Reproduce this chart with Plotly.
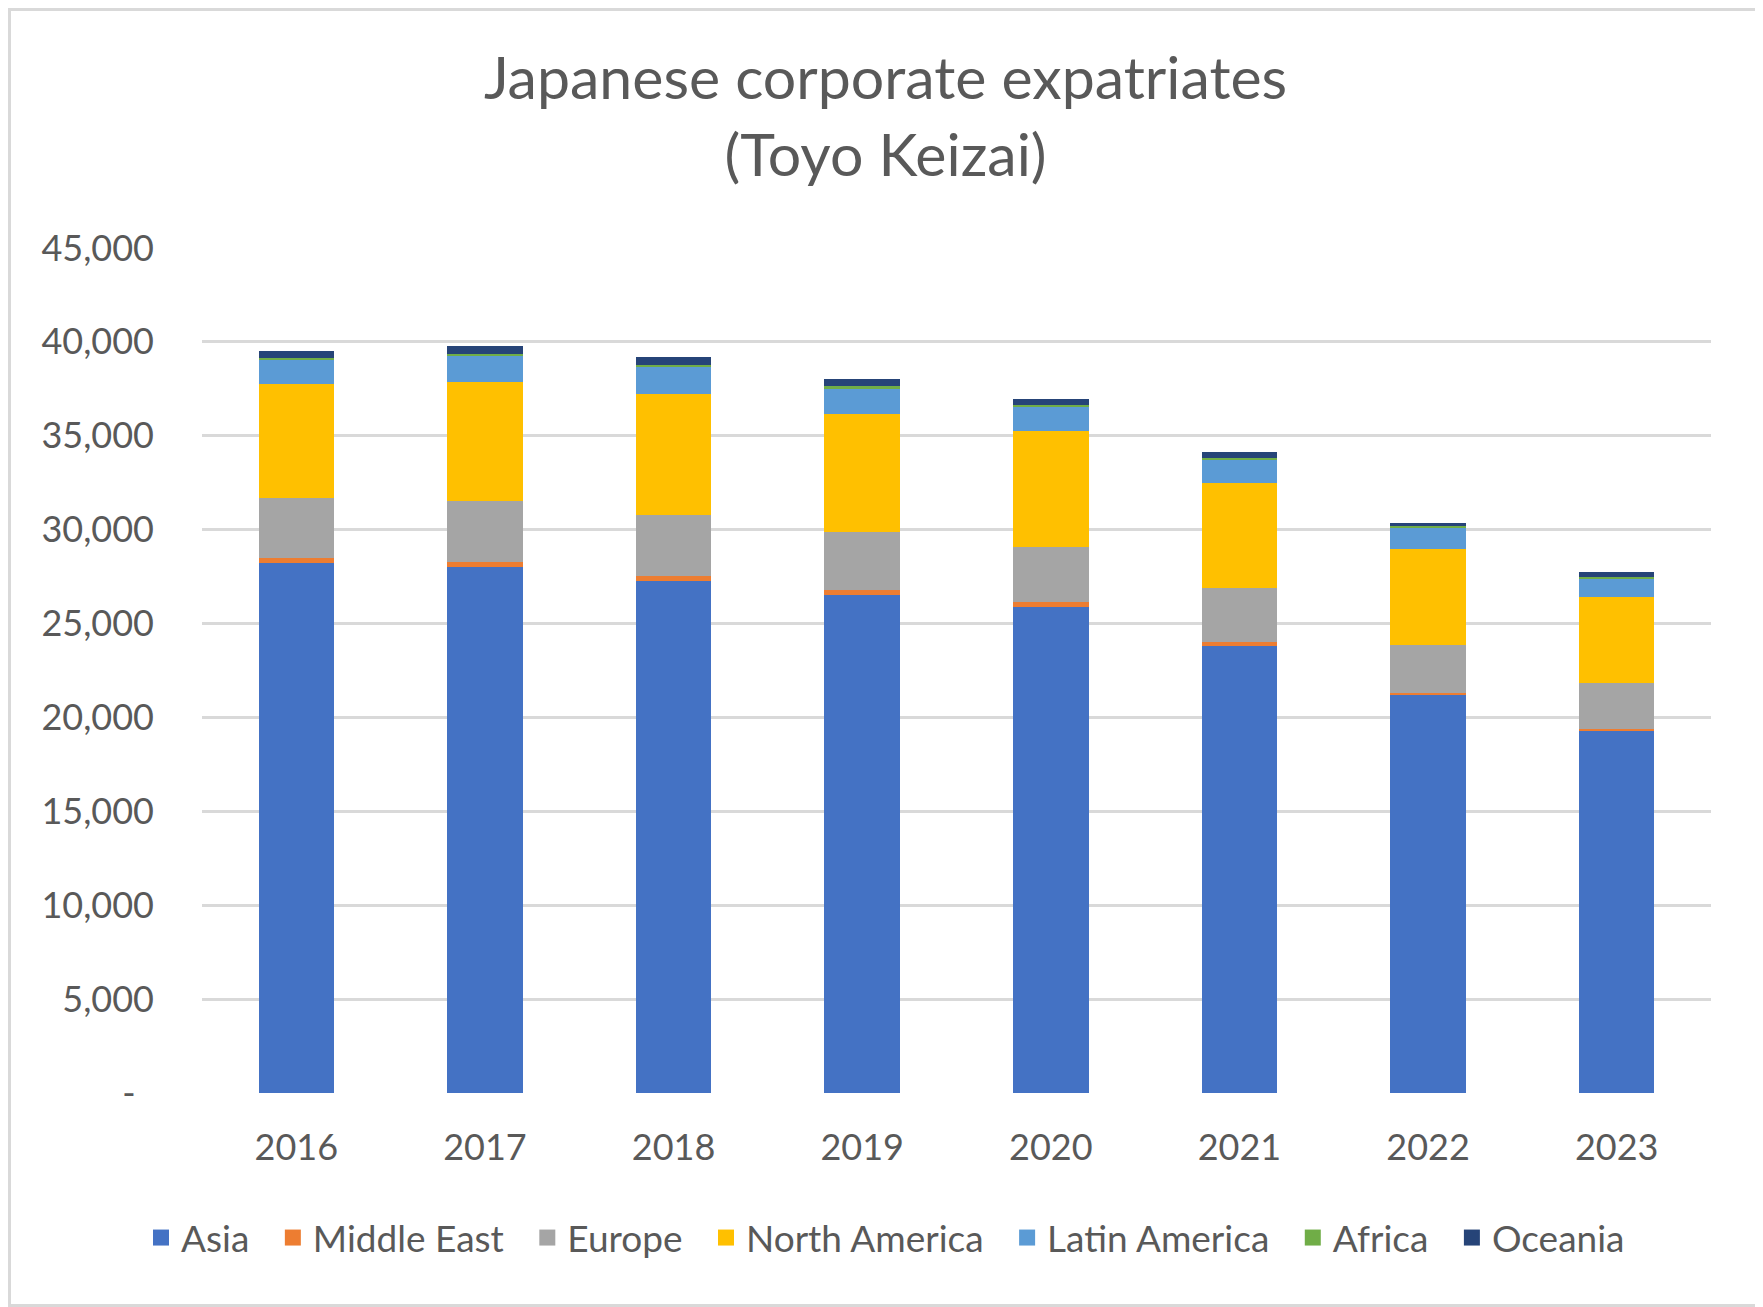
import plotly.graph_objects as go

# =========================================================
# DATA
# =========================================================
years = ["2016", "2017", "2018", "2019", "2020", "2021", "2022", "2023"]

asia = [28230, 28010, 27270, 26530, 25890, 23790, 21170, 19270]
middle_east = [280, 280, 280, 270, 270, 230, 140, 140]
europe = [3190, 3260, 3230, 3090, 2930, 2880, 2530, 2420]
north_america = [6060, 6330, 6450, 6250, 6150, 5610, 5140, 4590]
latin_america = [1280, 1400, 1470, 1400, 1300, 1240, 1120, 1000]
africa = [110, 70, 90, 90, 90, 90, 70, 40]
oceania = [370, 430, 430, 370, 320, 320, 210, 270]

y_tickvals = [0, 5000, 10000, 15000, 20000, 25000, 30000, 35000, 40000, 45000]
y_ticktext = ["-\u00a0\u00a0", "5,000", "10,000", "15,000", "20,000",
              "25,000", "30,000", "35,000", "40,000", "45,000"]

# =========================================================
# STYLE
# =========================================================
FONT = "Lato"
TEXT_COLOR = "#595959"
GRID_COLOR = "#d9d9d9"
PAD = "\u2002"   # extra room between legend entries

series = [
    ("Asia", asia, "#4472C4"),
    ("Middle East", middle_east, "#ED7D31"),
    ("Europe", europe, "#A5A5A5"),
    ("North America", north_america, "#FFC000"),
    ("Latin America", latin_america, "#5B9BD5"),
    ("Africa", africa, "#70AD47"),
    ("Oceania", oceania, "#264478"),
]

# page is 1763x1307, body has an 8px margin
W, H = 1755, 1299
ML, MR, MT, MB = 194, 52, 240, 214
PW, PH = W - ML - MR, H - MT - MB

fig = go.Figure()

for name, vals, color in series:
    fig.add_trace(go.Bar(
        x=years,
        y=vals,
        name=name,
        marker=dict(color=color, line=dict(width=0)),
        showlegend=False,
    ))

# legend entries with bigger square swatches
for i, (name, vals, color) in enumerate(series):
    label = name if i == len(series) - 1 else name + PAD
    fig.add_trace(go.Scatter(
        x=[None],
        y=[None],
        mode="markers",
        name=label,
        marker=dict(symbol="square", size=16, color=color),
        showlegend=True,
    ))

# outer chart border
fig.add_shape(
    type="rect", xref="paper", yref="paper",
    x0=(1.5 - ML) / PW, x1=(W - 1.5 - ML) / PW,
    y0=-(MB - 1.5) / PH, y1=1 + (MT - 1.5) / PH,
    line=dict(color=GRID_COLOR, width=3),
    fillcolor="rgba(0,0,0,0)",
    layer="below",
)

fig.update_layout(
    barmode="stack",
    bargap=0.6,
    width=W,
    height=H,
    margin=dict(l=ML, r=MR, t=MT, b=MB),
    paper_bgcolor="white",
    plot_bgcolor="white",
    font=dict(family=FONT, color=TEXT_COLOR, size=36),
    title=dict(
        text="Japanese corporate expatriates<br>(Toyo Keizai)",
        x=0.5, xref="container", xanchor="center",
        y=0.93, yref="container", yanchor="top",
        font=dict(family=FONT, size=59, color=TEXT_COLOR),
    ),
    xaxis=dict(
        showgrid=False,
        showline=False,
        ticks="",
        tickfont=dict(size=36, color=TEXT_COLOR),
        ticklabelstandoff=30,
    ),
    yaxis=dict(
        range=[0, 45000],
        tickmode="array",
        tickvals=y_tickvals,
        ticktext=y_ticktext,
        showgrid=True,
        gridcolor=GRID_COLOR,
        gridwidth=2.5,
        zeroline=False,
        showline=False,
        ticks="",
        tickfont=dict(size=36, color=TEXT_COLOR),
        ticklabelstandoff=47,
    ),
    legend=dict(
        orientation="h",
        x=0.5, xref="container", xanchor="center",
        y=1 - 1230 / H, yref="container", yanchor="middle",
        font=dict(size=37, color=TEXT_COLOR),
        traceorder="normal",
        itemclick=False,
    ),
    showlegend=True,
)

fig.write_html("out.html")
